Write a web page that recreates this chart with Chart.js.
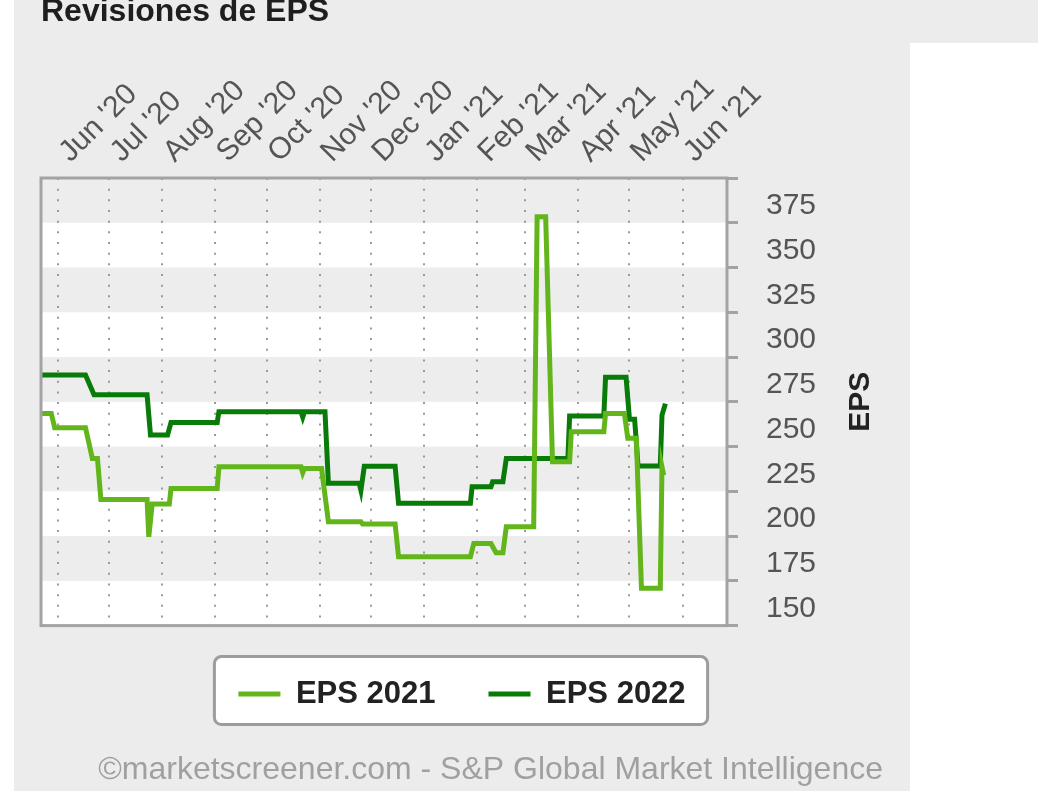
<!DOCTYPE html>
<html>
<head>
<meta charset="utf-8">
<title>Revisiones de EPS</title>
<script src="https://cdn.jsdelivr.net/npm/chart.js@4.4.0/dist/chart.umd.min.js"></script>
<style>
  html, body { margin: 0; padding: 0; background: #fff; width: 1038px; height: 794px; overflow: hidden; }
  .panel { position: absolute; left: 14px; top: 0; width: 896px; height: 791px; background: #ececec; }
  .strip { position: absolute; left: 910px; top: 0; width: 128px; height: 43px; background: #ececec; }
  .wrap { position: absolute; left: 14px; top: -4px; width: 894px; height: 793px; }
</style>
</head>
<body>
<div class="panel"></div>
<div class="strip"></div>
<div class="wrap"><canvas id="eps"></canvas></div>
<script>
const FONT = '"Liberation Sans", Arial, sans-serif';

// x range and month ticks
const xStart = '2020-05-22';
const xEnd = '2021-06-27';
const monthTicks = ['2020-06-01', '2020-07-01', '2020-08-01', '2020-09-01', '2020-10-01', '2020-11-01',
  '2020-12-01', '2021-01-01', '2021-02-01', '2021-03-01', '2021-04-01', '2021-05-01', '2021-06-01'];
const monthLabels = ["Jun '20", "Jul '20", "Aug '20", "Sep '20", "Oct '20", "Nov '20",
  "Dec '20", "Jan '21", "Feb '21", "Mar '21", "Apr '21", "May '21", "Jun '21"];

// y axis
const yMin = 150;
const yMax = 400;
const yStep = 25;
const grayBands = [[175, 200], [225, 250], [275, 300], [325, 350], [375, 400]];

// EPS 2021
const eps2021Dates = ['2020-05-22', '2020-05-28', '2020-05-30', '2020-06-17', '2020-06-21', '2020-06-24',
  '2020-06-26', '2020-07-23', '2020-07-24', '2020-07-26', '2020-08-05', '2020-08-06', '2020-09-02',
  '2020-09-03', '2020-10-21', '2020-10-22', '2020-10-23', '2020-11-02', '2020-11-06', '2020-11-25',
  '2020-11-26', '2020-12-15', '2020-12-17', '2021-01-28', '2021-01-30', '2021-02-09', '2021-02-12',
  '2021-02-16', '2021-02-18', '2021-03-06', '2021-03-08', '2021-03-13', '2021-03-17', '2021-03-27',
  '2021-03-28', '2021-04-16', '2021-04-17', '2021-04-28', '2021-04-30', '2021-05-05', '2021-05-08',
  '2021-05-19', '2021-05-20', '2021-05-21'];
const eps2021Values = [268.5, 268.5, 260.5, 260.5, 243.4, 243.4,
  220.5, 220.5, 199.6, 217.9, 217.9, 226.6, 226.6,
  238.7, 238.7, 235.4, 237.8, 237.8, 208, 208,
  206.7, 206.7, 188.4, 188.4, 195.9, 195.9, 190.7,
  190.7, 205.2, 205.2, 378.4, 378.4, 241.5, 241.5,
  258.3, 258.3, 268.5, 268.5, 254.6, 254.6, 170.8,
  170.8, 238.7, 234];

// EPS 2022
const eps2022Dates = ['2020-05-22', '2020-06-17', '2020-06-22', '2020-07-23', '2020-07-25', '2020-08-04',
  '2020-08-06', '2020-09-02', '2020-09-03', '2020-10-21', '2020-10-22', '2020-10-23', '2020-11-04',
  '2020-11-06', '2020-11-24', '2020-11-25', '2020-11-27', '2020-12-15', '2020-12-17', '2021-01-28',
  '2021-01-29', '2021-02-09', '2021-02-10', '2021-02-16', '2021-02-18', '2021-03-26', '2021-03-27',
  '2021-04-16', '2021-04-17', '2021-04-29', '2021-05-01', '2021-05-04', '2021-05-06', '2021-05-19',
  '2021-05-20', '2021-05-22'];
const eps2022Values = [290, 290, 279, 279, 256.5, 256.5,
  263.5, 263.5, 269.5, 269.5, 266.5, 269.5, 269.5,
  229.5, 229.5, 225.5, 239, 239, 218.3, 218.3,
  227.5, 227.5, 230.3, 230.3, 243.4, 243.4, 267,
  267, 288.7, 288.7, 265.2, 265.2, 239.1, 239.1,
  267.6, 274];

const origin = Date.parse('2020-06-01');
const toDay = d => (Date.parse(d) - origin) / 864e5;
const toPoints = (dates, values) => dates.map((d, i) => ({ x: toDay(d), y: values[i] }));

const plotBands = {
  id: 'plotBands',
  beforeDraw(chart) {
    const { ctx, chartArea: { left, top, width, height }, scales: { y } } = chart;
    ctx.save();
    ctx.fillStyle = '#ffffff';
    ctx.fillRect(left, top, width, height);
    ctx.fillStyle = '#ededed';
    grayBands.forEach(([a, b]) => {
      const y1 = y.getPixelForValue(b);
      const y2 = y.getPixelForValue(a);
      ctx.fillRect(left, y1, width, y2 - y1);
    });
    ctx.restore();
  }
};

const legendBox = {
  id: 'legendBox',
  beforeDraw(chart) {
    const boxes = chart.legend && chart.legend.legendHitBoxes;
    if (!boxes || !boxes.length) return;
    const { ctx } = chart;
    const l = Math.min(...boxes.map(b => b.left)) - 24;
    const r = Math.max(...boxes.map(b => b.left + b.width)) + 22;
    const t = boxes[0].top - 22;
    const b = boxes[0].top + boxes[0].height + 15;
    ctx.save();
    ctx.beginPath();
    ctx.roundRect(l, t, r - l, b - t, 7);
    ctx.fillStyle = '#ffffff';
    ctx.fill();
    ctx.lineWidth = 3;
    ctx.strokeStyle = '#9c9c9c';
    ctx.stroke();
    ctx.restore();
  }
};

const plotFrame = {
  id: 'plotFrame',
  afterDatasetsDraw(chart) {
    const { ctx, chartArea: { left, top, width, height } } = chart;
    ctx.save();
    ctx.lineWidth = 3;
    ctx.strokeStyle = '#a3a3a3';
    ctx.strokeRect(left, top, width, height);
    ctx.restore();
  }
};

const yTitle = {
  id: 'yTitle',
  afterDraw(chart) {
    const { ctx, chartArea: { top, bottom }, scales: { y } } = chart;
    ctx.save();
    ctx.translate(y.right - 22, (top + bottom) / 2);
    ctx.rotate(-Math.PI / 2);
    ctx.textAlign = 'center';
    ctx.textBaseline = 'middle';
    ctx.fillStyle = '#222222';
    ctx.font = 'bold 30px ' + FONT;
    ctx.fillText('EPS', 0, 0);
    ctx.restore();
  }
};

new Chart(document.getElementById('eps'), {
  type: 'line',
  plugins: [plotBands, legendBox, plotFrame, yTitle],
  data: {
    datasets: [
      {
        label: 'EPS 2021',
        data: toPoints(eps2021Dates, eps2021Values),
        borderColor: '#62b51b',
        backgroundColor: '#62b51b',
        borderWidth: 5,
        pointRadius: 0,
        tension: 0
      },
      {
        label: 'EPS 2022',
        data: toPoints(eps2022Dates, eps2022Values),
        borderColor: '#097b09',
        backgroundColor: '#097b09',
        borderWidth: 5,
        pointRadius: 0,
        tension: 0
      }
    ]
  },
  options: {
    responsive: true,
    maintainAspectRatio: false,
    animation: false,
    layout: { padding: { left: 27, right: 25, top: 0, bottom: 0 } },
    plugins: {
      title: {
        display: true,
        text: 'Revisiones de EPS',
        align: 'start',
        color: '#1e1e1e',
        font: { family: FONT, size: 32, weight: 'bold', lineHeight: 1 },
        padding: { top: 0, bottom: 10 }
      },
      subtitle: {
        display: true,
        text: '©marketscreener.com - S&P Global Market Intelligence',
        position: 'bottom',
        align: 'end',
        color: '#a0a0a0',
        font: { family: FONT, size: 32, weight: 'normal', lineHeight: 1.2 },
        padding: { top: 31, bottom: 0 }
      },
      legend: {
        position: 'bottom',
        labels: {
          usePointStyle: true,
          pointStyle: 'line',
          pointStyleWidth: 42,
          padding: 53,
          color: '#222222',
          font: { family: FONT, size: 31, weight: 'bold' }
        }
      },
      tooltip: { enabled: false }
    },
    scales: {
      x: {
        type: 'linear',
        position: 'top',
        min: toDay(xStart),
        max: toDay(xEnd),
        afterBuildTicks(scale) {
          scale.ticks = monthTicks.map(d => ({ value: toDay(d) }));
        },
        afterFit(scale) {
          scale.height = 140;
          scale.paddingLeft = 0;
          scale.paddingRight = 0;
        },
        grid: { color: '#9a9a9a', lineWidth: 2, drawTicks: false },
        border: { display: false, dash: [2, 8.67] },
        ticks: {
          autoSkip: false,
          minRotation: 45,
          maxRotation: 45,
          padding: 8,
          labelOffset: 32,
          color: '#555555',
          font: { family: FONT, size: 30 },
          callback: (v, i) => monthLabels[i]
        }
      },
      y: {
        type: 'linear',
        position: 'right',
        min: yMin,
        max: yMax,
        afterFit(scale) {
          scale.width = 156;
        },
        grid: { drawOnChartArea: false, drawTicks: true, tickLength: 11, tickWidth: 3, tickColor: '#a3a3a3' },
        border: { display: false },
        ticks: {
          stepSize: yStep,
          padding: 28,
          labelOffset: -17,
          color: '#555555',
          font: { family: FONT, size: 30 },
          callback: v => (v === yMax ? '' : v)
        }
      }
    }
  }
});
</script>
</body>
</html>
